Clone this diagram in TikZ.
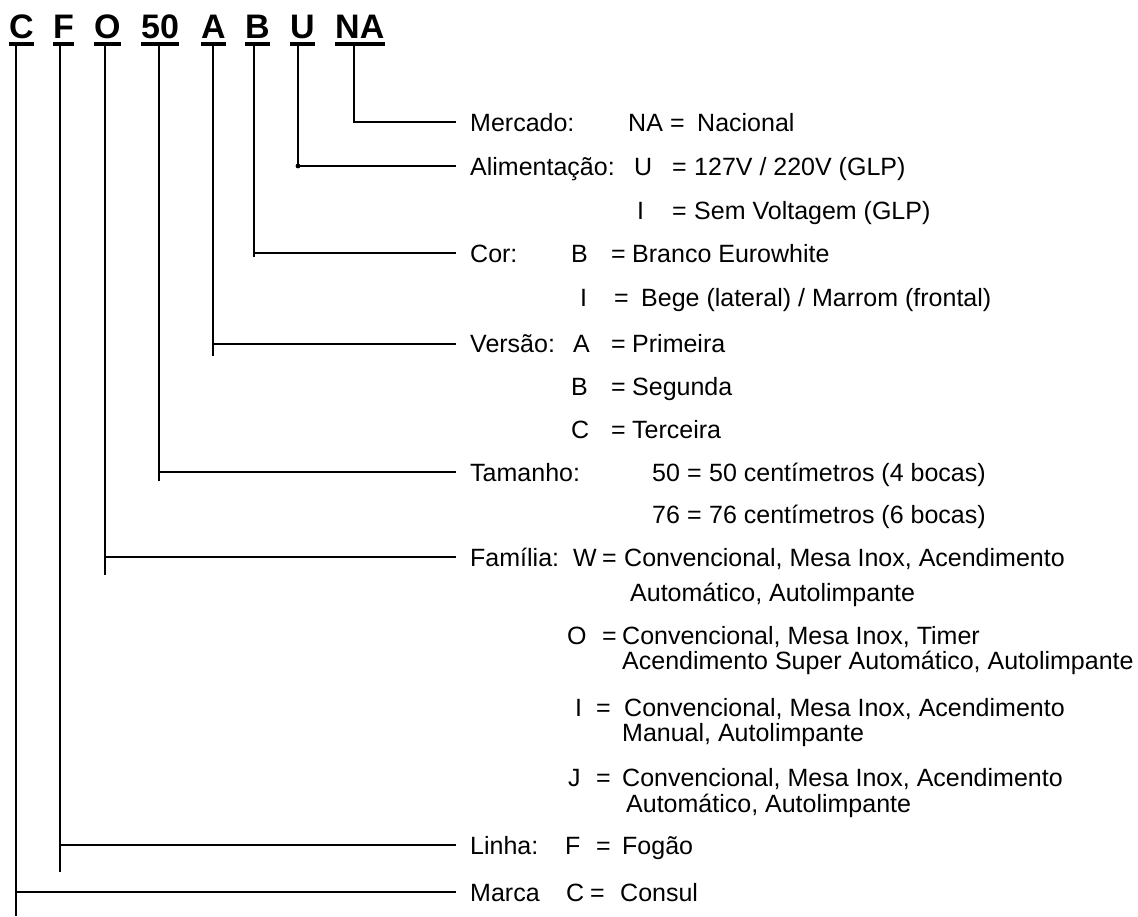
\documentclass[tikz,border=0pt]{standalone}
\usepackage{fontspec}
\setmainfont{Liberation Sans}
\tikzset{
  lnk/.style={line width=2.6pt},
  uline/.style={line width=3.2pt},
  ttl/.style={font=\fontsize{34}{38}\selectfont\bfseries, inner sep=0pt, anchor=base west},
  txt/.style={font=\fontsize{25}{29}\selectfont, inner sep=0pt, anchor=base west},
}
\begin{document}
\begin{tikzpicture}[x=1pt,y=-1pt]
\useasboundingbox (0,0) rectangle (1138,916);
% title letters
\node[ttl] (tC) at (9,38) {C};
\node[ttl] (tF) at (53,38) {F};
\node[ttl] (tO) at (94,38) {O};
\node[ttl] (t50) at (141,38) {50};
\node[ttl] (tA) at (201,38) {A};
\node[ttl] (tB) at (245,38) {B};
\node[ttl] (tU) at (290,38) {U};
\node[ttl] (tNA) at (335,38) {NA};
\foreach \n in {C,F,O,50,A,B,U,NA}{
  \draw[uline] ([yshift=-6pt]t\n.base west) -- ([yshift=-6pt]t\n.base east);
  \coordinate (u\n) at ([yshift=-6pt]t\n.base west);
}
% field labels
\node[txt] (lNA) at (470,131) {Mercado:};
\node[txt] (lU) at (470,175) {Alimentação:};
\node[txt] (lB) at (470,262) {Cor:};
\node[txt] (lA) at (470,352) {Versão:};
\node[txt] (l50) at (470,481) {Tamanho:};
\node[txt] (lO) at (470,566) {Família:};
\node[txt] (lF) at (470,854) {Linha:};
\node[txt] (lC) at (470,901) {Marca};
% values
\node[txt] (v1a) at (628,131) {NA};
\node[txt] (v1b) at (670,131) {=};
\node[txt] (v1c) at (697,131) {Nacional};
\node[txt] (v2a) at (634,175) {U};
\node[txt] (v2b) at (672,175) {=};
\node[txt] (v2c) at (694,175) {127V / 220V (GLP)};
\node[txt] (v3a) at (637,219) {I};
\node[txt] (v3b) at (672,219) {=};
\node[txt] (v3c) at (694,219) {Sem Voltagem (GLP)};
\node[txt] (v4a) at (571,262) {B};
\node[txt] (v4b) at (611,262) {=};
\node[txt] (v4c) at (632,262) {Branco Eurowhite};
\node[txt] (v5a) at (580,306) {I};
\node[txt] (v5b) at (614,306) {=};
\node[txt] (v5c) at (641,306) {Bege (lateral) / Marrom (frontal)};
\node[txt] (v6a) at (573,352) {A};
\node[txt] (v6b) at (611,352) {=};
\node[txt] (v6c) at (632,352) {Primeira};
\node[txt] (v7a) at (571,395) {B};
\node[txt] (v7b) at (611,395) {=};
\node[txt] (v7c) at (632,395) {Segunda};
\node[txt] (v8a) at (571,438) {C};
\node[txt] (v8b) at (611,438) {=};
\node[txt] (v8c) at (632,438) {Terceira};
\node[txt] (v9a) at (652,481) {50};
\node[txt] (v9b) at (687,481) {=};
\node[txt] (v9c) at (709,481) {50 centímetros (4 bocas)};
\node[txt] (v10a) at (652,523) {76};
\node[txt] (v10b) at (687,523) {=};
\node[txt] (v10c) at (709,523) {76 centímetros (6 bocas)};
\node[txt] (v11a) at (573,566) {W};
\node[txt] (v11b) at (602,566) {=};
\node[txt] (v11c) at (624,566) {Convencional, Mesa Inox, Acendimento};
\node[txt] (v11d) at (630,601) {Automático, Autolimpante};
\node[txt] (v12a) at (567,644) {O};
\node[txt] (v12b) at (602,644) {=};
\node[txt] (v12c) at (622,644) {Convencional, Mesa Inox, Timer};
\node[txt] (v12d) at (622,669) {Acendimento Super Automático, Autolimpante};
\node[txt] (v13a) at (575,716) {I};
\node[txt] (v13b) at (596,716) {=};
\node[txt] (v13c) at (624,716) {Convencional, Mesa Inox, Acendimento};
\node[txt] (v13d) at (622,741) {Manual, Autolimpante};
\node[txt] (v14a) at (568,786) {J};
\node[txt] (v14b) at (596,786) {=};
\node[txt] (v14c) at (622,786) {Convencional, Mesa Inox, Acendimento};
\node[txt] (v14d) at (626,812) {Automático, Autolimpante};
\node[txt] (v15a) at (565,854) {F};
\node[txt] (v15b) at (596,854) {=};
\node[txt] (v15c) at (622,854) {Fogão};
\node[txt] (v16a) at (566,901) {C};
\node[txt] (v16b) at (590,901) {=};
\node[txt] (v16c) at (620,901) {Consul};
% junctions and ends
\coordinate (jNA) at (354,122);  \coordinate (eNA) at (354,123.3);
\coordinate (jU)  at (298,166);  \coordinate (eU)  at (298,167);
\coordinate (jB)  at (254,253);  \coordinate (eB)  at (254,257);
\coordinate (jA)  at (213,344);  \coordinate (eA)  at (213,356);
\coordinate (j50) at (159,472);  \coordinate (e50) at (159,481);
\coordinate (jO)  at (105,557);  \coordinate (eO)  at (105,575);
\coordinate (jF)  at (60,845);   \coordinate (eF)  at (60,872);
\coordinate (jC)  at (16,892);   \coordinate (eC)  at (16,916);
\foreach \n in {C,F,O,50,A,B,U,NA}{
  \coordinate (h\n) at ([xshift=-14pt]l\n.west);
  \draw[lnk] (j\n |- u\n) -- (e\n);
  \draw[lnk] (j\n) -- (j\n -| h\n);
}
\fill (jU) circle (2.4);
\end{tikzpicture}
\end{document}
